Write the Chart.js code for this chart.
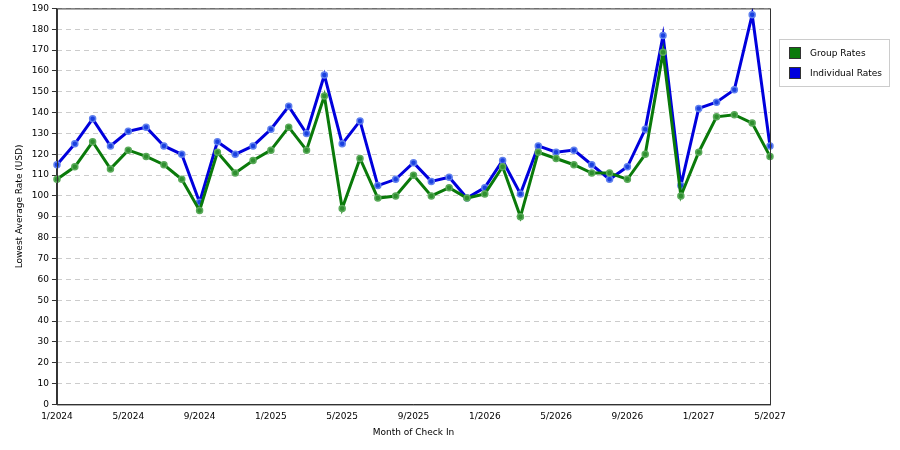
<!DOCTYPE html>
<html><head><meta charset="utf-8">
<script src="https://cdn.jsdelivr.net/npm/chart.js@4"></script>
<style>html,body{margin:0;padding:0;background:#fff}#w{position:relative;width:900px;height:450px}</style>
</head><body><div id="w"><canvas id="c" width="900" height="450"></canvas></div>
<script>
const months = [];
for (let y = 2024; y <= 2027; y++) for (let m = 1; m <= 12; m++) { if (y === 2027 && m > 5) break; months.push(m + '/' + y); }
const groupRates = [108,114,126,113,122,119,115,108,93,121,111,117,122,133,122,148,94,118,99,100,110,100,104,99,101,114,90,121,118,115,111,111,108,120,169,100,121,138,139,135,119];
const individualRates = [115,125,137,124,131,133,124,120,97,126,120,124,132,143,130,158,125,136,105,108,116,107,109,99,104,117,101,124,121,122,115,108,114,132,177,105,142,145,151,187,124];
const yTicks = [];
for (let v = 0; v <= 190; v += 10) yTicks.push(v);

const legendBox = {
  id: 'legendBox',
  afterDraw(chart) {
    const ctx = chart.ctx;
    ctx.save();
    ctx.strokeStyle = '#ccc'; ctx.lineWidth = 1;
    ctx.strokeRect(779.5, 39.5, 110, 47);
    const items = [['Group Rates', '#0a7a0a'], ['Individual Rates', '#0000dd']];
    items.forEach((it, i) => {
      const y = 47 + i * 20;
      ctx.fillStyle = it[1]; ctx.fillRect(789, y, 12, 12);
      ctx.strokeStyle = '#333'; ctx.strokeRect(789.5, y + 0.5, 11, 11);
      ctx.fillStyle = '#000'; ctx.font = '9px "DejaVu Sans"'; ctx.textBaseline = 'middle';
      ctx.fillText(it[0], 810, y + 7);
    });
    const a = chart.chartArea;
    ctx.strokeStyle = '#333'; ctx.lineWidth = 1;
    ctx.strokeRect(a.left + 0.5, a.top + 0.5, a.right - a.left, a.bottom - a.top);
    ctx.restore();
  }
};

new Chart(document.getElementById('c'), {
  type: 'line',
  data: {
    labels: months,
    datasets: [
      { label: 'Group Rates', data: groupRates, borderColor: '#0a7a0a', backgroundColor: '#2f8f2f', pointBorderColor: '#5aaa5a', borderWidth: 3, pointRadius: 3, pointBorderWidth: 1.5, tension: 0 },
      { label: 'Individual Rates', data: individualRates, borderColor: '#0000dd', backgroundColor: '#1a40e0', pointBorderColor: '#6080ee', borderWidth: 3, pointRadius: 3, pointBorderWidth: 1.5, tension: 0 }
    ]
  },
  options: {
    responsive: false, animation: false,
    layout: { padding: { left: 10, right: 130, top: 4, bottom: 10 } },
    plugins: { legend: { display: false }, tooltip: { enabled: false } },
    scales: {
      x: {
        offset: false,
        grid: { display: false, drawTicks: true, tickLength: 4 },
        border: { color: '#333' },
        title: { display: true, text: 'Month of Check In', font: { size: 9, family: 'DejaVu Sans' }, color: '#000', padding: 2 },
        ticks: { autoSkip: false, maxRotation: 0, font: { size: 9, family: 'DejaVu Sans' }, color: '#000',
          callback: (v, i) => (i % 4 === 0 ? months[i] : '') }
      },
      y: {
        min: 0, max: 190,
        afterBuildTicks: ax => { ax.ticks = yTicks.map(v => ({ value: v })); },
        grid: { color: '#ccc', tickColor: '#333', tickLength: 5, drawTicks: true },
        border: { dash: [5, 4], color: '#333' },
        title: { display: true, text: 'Lowest Average Rate (USD)', font: { size: 9, family: 'DejaVu Sans' }, color: '#000' },
        ticks: { font: { size: 9, family: 'DejaVu Sans' }, color: '#000', padding: 3 }
      }
    }
  },
  plugins: [legendBox]
});
</script></body></html>
